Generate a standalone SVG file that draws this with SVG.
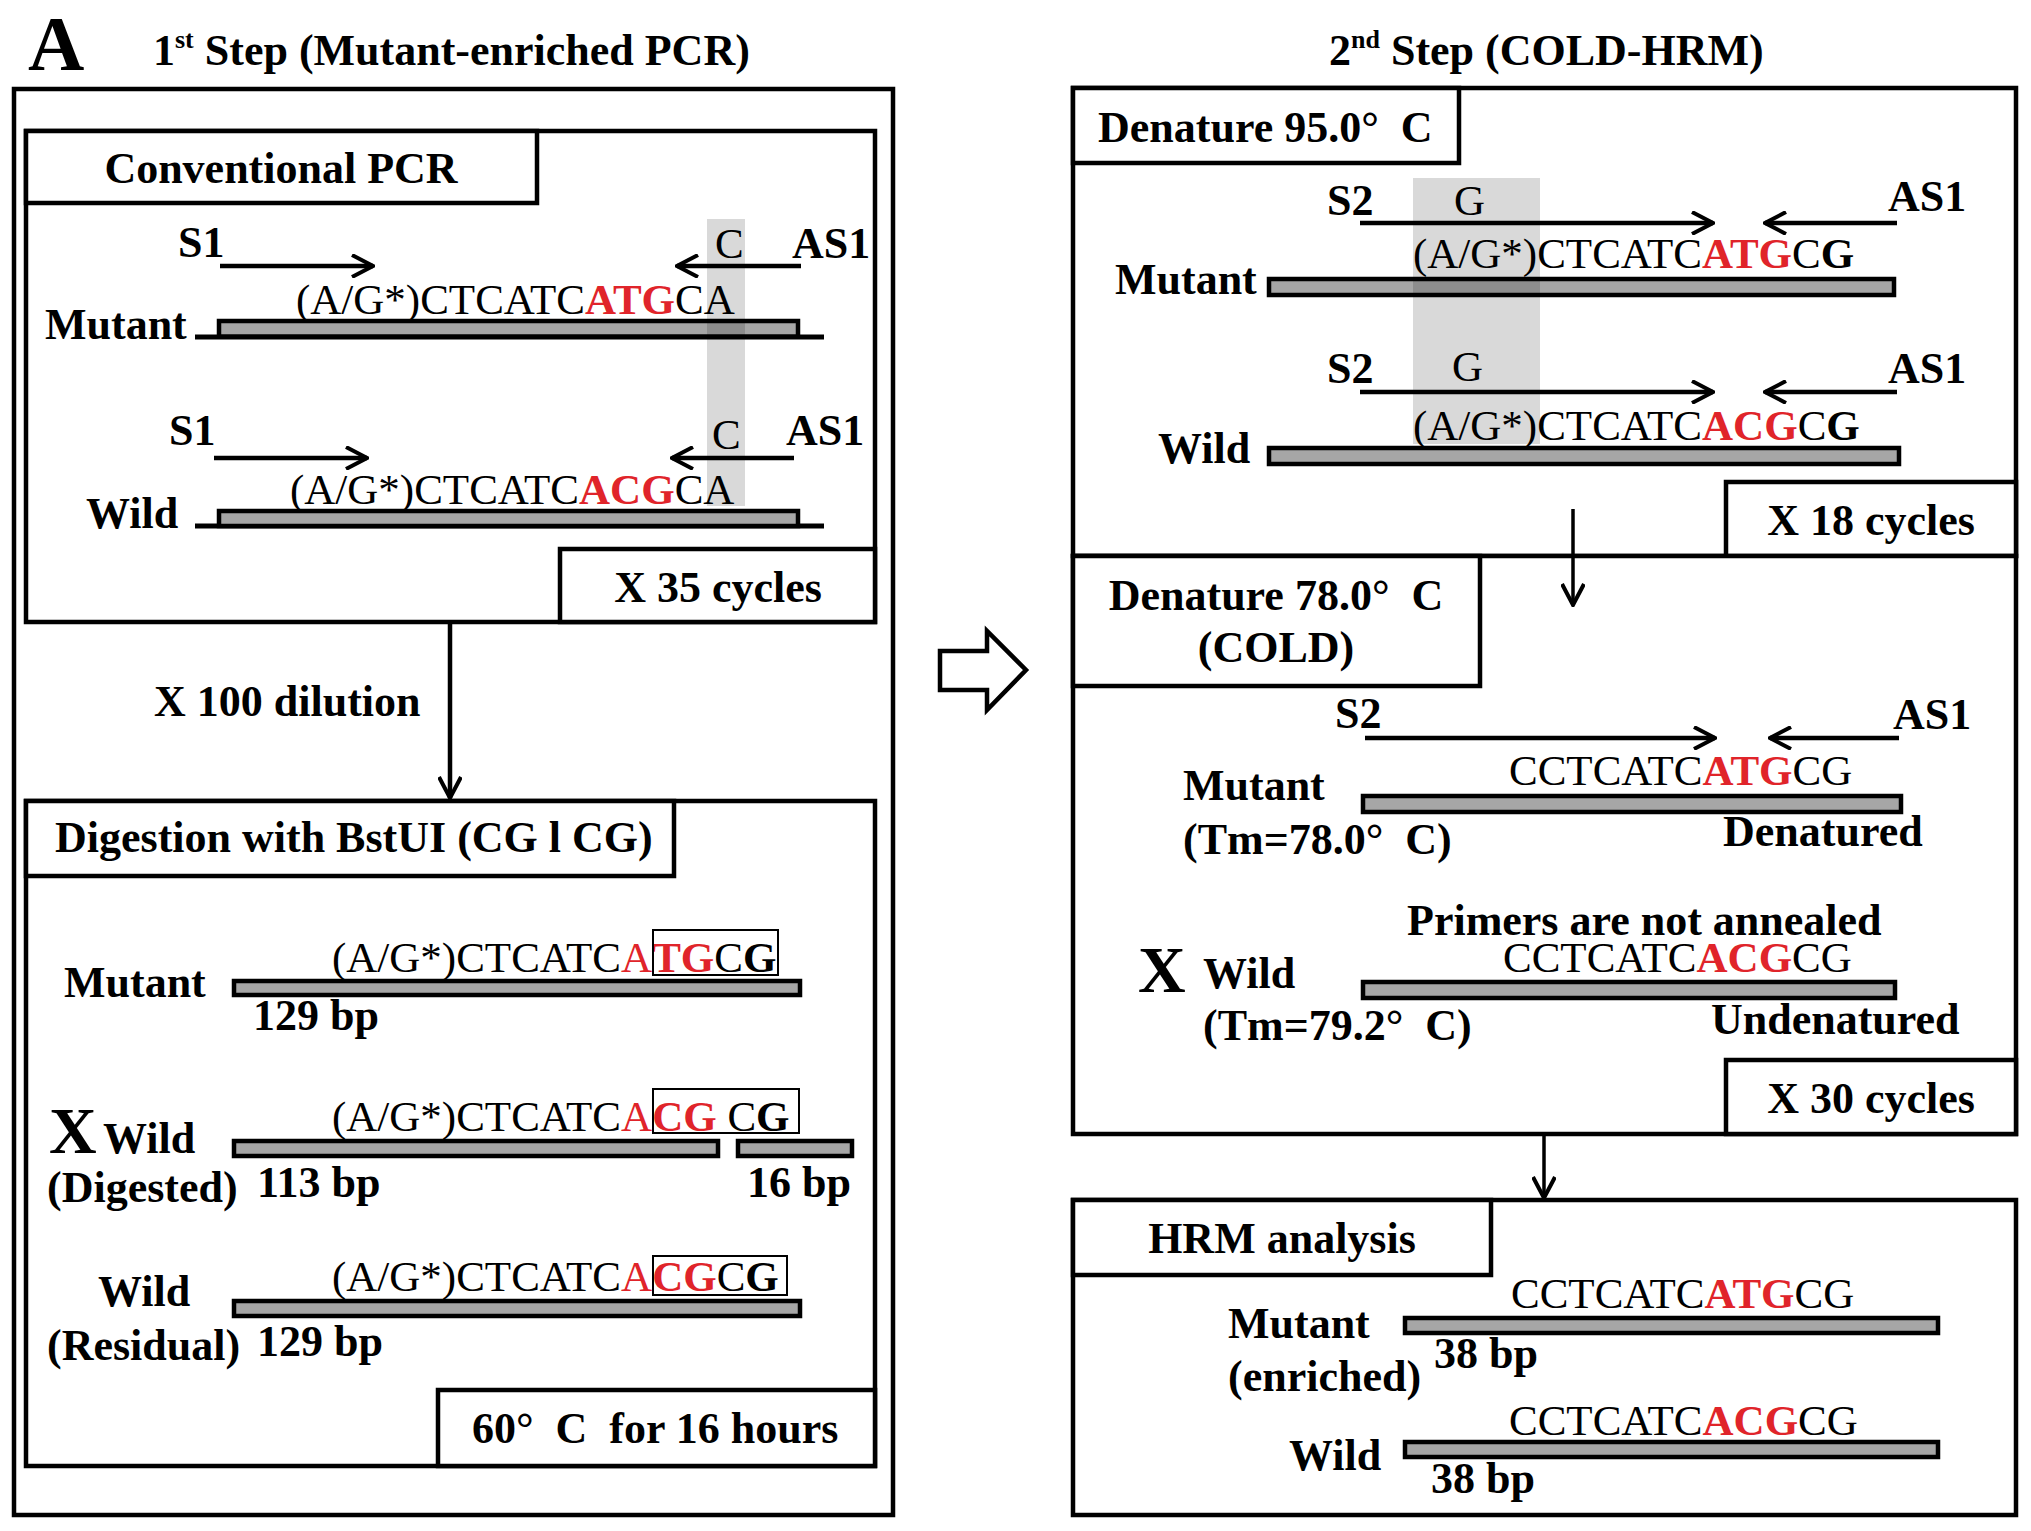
<svg xmlns="http://www.w3.org/2000/svg" width="2031" height="1531" viewBox="0 0 2031 1531">
<defs>
<style>
.box{fill:#fff;stroke:#000;stroke-width:4.5}
.bar{fill:#a6a6a6;stroke:#000;stroke-width:4.5}
.line{stroke:#000;stroke-width:5}
.band{fill:#000;fill-opacity:0.15}
.sb{fill:none;stroke:#000;stroke-width:2}
.arr{fill:none;stroke:#000;stroke-width:4.5;marker-end:url(#ah)}
.arrt{fill:none;stroke:#000;stroke-width:3.5;marker-end:url(#ah)}
text{font-family:"Liberation Serif","Times New Roman",serif;fill:#000;white-space:pre}
.b{font-weight:bold;font-size:44px}
.r{font-weight:normal;font-size:43px}
.red{fill:#e0242a;font-weight:bold}
.redr{fill:#e0242a;font-weight:normal}
.bk{font-weight:bold}
.big{font-weight:bold;font-size:66px}
.mid{text-anchor:middle}
</style>
<marker id="ah" markerUnits="userSpaceOnUse" viewBox="0 0 24 24" markerWidth="24" markerHeight="24" refX="22" refY="12" orient="auto">
<path d="M1,1 L22,12 L1,23" fill="none" stroke="#000" stroke-width="4"/>
</marker>
</defs>
<rect width="2031" height="1531" fill="#fff"/>

<g id="titles">
<text x="28" y="70" style="font-weight:bold;font-size:78px">A</text>
<text x="153" y="65" class="b">1<tspan font-size="26" dy="-17">st</tspan><tspan dy="17"> Step (Mutant-enriched PCR)</tspan></text>
<text x="1329" y="65" class="b">2<tspan font-size="26" dy="-17">nd</tspan><tspan dy="17"> Step (COLD-HRM)</tspan></text>
</g>

<g id="step1">
<rect class="box" x="14" y="89" width="879" height="1426"/>
</g>

<g id="conventional-pcr">
<rect class="box" x="26" y="131" width="849" height="491"/>
<rect class="box" x="26" y="131" width="511" height="72"/>
<text class="b mid" x="281" y="183">Conventional PCR</text>
<line class="line" x1="195" y1="337" x2="824" y2="337"/>
<rect class="bar" x="219" y="321" width="579" height="15.5"/>
<line class="line" x1="195" y1="526" x2="824" y2="526"/>
<rect class="bar" x="219" y="511" width="579" height="15"/>
<rect class="band" x="707" y="219" width="38" height="287"/>
<text class="b" x="178" y="257">S1</text>
<text class="r" x="715" y="258">C</text>
<text class="b" x="792" y="258">AS1</text>
<text class="r" x="296" y="314">(A/G*)CTCATC<tspan class="red">ATG</tspan>CA</text>
<text class="b" x="45" y="339">Mutant</text>
<text class="b" x="169" y="445">S1</text>
<text class="r" x="712" y="449">C</text>
<text class="b" x="786" y="445">AS1</text>
<text class="r" x="290" y="504">(A/G*)CTCATC<tspan class="red">ACG</tspan>CA</text>
<text class="b" x="86" y="528">Wild</text>
</g>

<g id="cycles35">
<rect class="box" x="560" y="549" width="315" height="73"/>
<text class="b mid" x="718" y="602">X 35 cycles</text>
</g>

<g id="dilution-label">
<text class="b" x="154" y="716">X 100 dilution</text>
</g>

<g id="digestion">
<rect class="box" x="26" y="801" width="849" height="665"/>
<rect class="box" x="26" y="801" width="648" height="75"/>
<text class="b" x="55" y="852">Digestion with BstUI (CG l CG)</text>
<text class="b" x="64" y="997">Mutant</text>
<text class="r" x="332" y="972">(A/G*)CTCATC<tspan class="redr">A</tspan><tspan class="red">TG</tspan>C<tspan class="bk">G</tspan></text>
<rect class="sb" x="653" y="930" width="125" height="45"/>
<rect class="bar" x="234" y="981" width="566" height="14"/>
<text class="b" x="253" y="1030">129 bp</text>
<text class="big" x="49" y="1153">X</text>
<text class="b" x="103" y="1153">Wild</text>
<text class="r" x="332" y="1131">(A/G*)CTCATC<tspan class="redr">A</tspan><tspan class="red">CG</tspan> C<tspan class="bk">G</tspan></text>
<rect class="sb" x="653" y="1089" width="146" height="44"/>
<rect class="bar" x="234" y="1141" width="484" height="15"/>
<rect class="bar" x="738" y="1141" width="114" height="15"/>
<text class="b" x="47" y="1202">(Digested)</text>
<text class="b" x="257" y="1197">113 bp</text>
<text class="b" x="747" y="1197">16 bp</text>
<text class="b" x="98" y="1306">Wild</text>
<text class="r" x="332" y="1291">(A/G*)CTCATC<tspan class="redr">A</tspan><tspan class="red">CG</tspan>C<tspan class="bk">G</tspan></text>
<rect class="sb" x="653" y="1256" width="134" height="39"/>
<rect class="bar" x="234" y="1301" width="566" height="15"/>
<text class="b" x="47" y="1360">(Residual)</text>
<text class="b" x="257" y="1356">129 bp</text>
</g>

<g id="incubation">
<rect class="box" x="438" y="1390" width="437" height="76"/>
<text class="b" x="472" y="1443">60°  C  for 16 hours</text>
</g>

<g id="block-arrow">
<polygon class="box" points="940,651 987,651 987,631 1026,670 987,710 987,690 940,690"/>
</g>

<g id="denature95">
<rect class="box" x="1073" y="88" width="943" height="468"/>
<rect class="box" x="1073" y="88" width="386" height="75"/>
<text class="b" x="1098" y="142">Denature 95.0°  C</text>
<rect class="bar" x="1269" y="279" width="625" height="16"/>
<rect class="bar" x="1269" y="448" width="630" height="16"/>
<rect class="band" x="1413" y="178" width="127" height="266"/>
<text class="b" x="1327" y="215">S2</text>
<text class="r" x="1454" y="215">G</text>
<text class="b" x="1888" y="211">AS1</text>
<text class="r" x="1413" y="268">(A/G*)CTCATC<tspan class="red">ATG</tspan>C<tspan class="bk">G</tspan></text>
<text class="b" x="1115" y="294">Mutant</text>
<text class="b" x="1327" y="383">S2</text>
<text class="r" x="1452" y="381">G</text>
<text class="b" x="1888" y="383">AS1</text>
<text class="r" x="1413" y="440">(A/G*)CTCATC<tspan class="red">ACG</tspan>C<tspan class="bk">G</tspan></text>
<text class="b" x="1158" y="463">Wild</text>
</g>

<g id="cycles18">
<rect class="box" x="1726" y="482" width="290" height="74"/>
<text class="b mid" x="1871" y="535">X 18 cycles</text>
</g>

<g id="denature78">
<rect class="box" x="1073" y="556" width="943" height="578"/>
<rect class="box" x="1073" y="556" width="407" height="130"/>
<text class="b mid" x="1276" y="610">Denature 78.0°  C</text>
<text class="b mid" x="1276" y="662">(COLD)</text>
<text class="b" x="1335" y="728">S2</text>
<text class="b" x="1893" y="729">AS1</text>
<text class="r" x="1509" y="785">CCTCATC<tspan class="red">ATG</tspan>CG</text>
<text class="b" x="1183" y="800">Mutant</text>
<rect class="bar" x="1363" y="796" width="538" height="16"/>
<text class="b" x="1723" y="846">Denatured</text>
<text class="b" x="1183" y="854">(Tm=78.0°  C)</text>
<text class="b" x="1407" y="935">Primers are not annealed</text>
<text class="r" x="1503" y="972">CCTCATC<tspan class="red">ACG</tspan>CG</text>
<text class="big" x="1138" y="992">X</text>
<text class="b" x="1203" y="988">Wild</text>
<rect class="bar" x="1363" y="982" width="532" height="16"/>
<text class="b" x="1711" y="1034">Undenatured</text>
<text class="b" x="1203" y="1040">(Tm=79.2°  C)</text>
</g>

<g id="cycles30">
<rect class="box" x="1726" y="1060" width="290" height="74"/>
<text class="b mid" x="1871" y="1113">X 30 cycles</text>
</g>

<g id="hrm">
<rect class="box" x="1073" y="1200" width="943" height="315"/>
<rect class="box" x="1073" y="1200" width="418" height="75"/>
<text class="b mid" x="1282" y="1253">HRM analysis</text>
<text class="r" x="1511" y="1308">CCTCATC<tspan class="red">ATG</tspan>CG</text>
<text class="b" x="1228" y="1338">Mutant</text>
<rect class="bar" x="1405" y="1318" width="533" height="15"/>
<text class="b" x="1434" y="1368">38 bp</text>
<text class="b" x="1228" y="1391">(enriched)</text>
<text class="r" x="1509" y="1435">CCTCATC<tspan class="red">ACG</tspan>CG</text>
<text class="b" x="1289" y="1470">Wild</text>
<rect class="bar" x="1405" y="1442" width="533" height="15"/>
<text class="b" x="1431" y="1493">38 bp</text>
</g>

<g id="connectors">
<path class="arr" d="M220,266 H373"/>
<path class="arr" d="M801,266 H677"/>
<path class="arr" d="M214,458 H367"/>
<path class="arr" d="M794,458 H672"/>
<path class="arr" d="M450,622 V798"/>
<path class="arr" d="M1360,223 H1713"/>
<path class="arr" d="M1897,223 H1765"/>
<path class="arr" d="M1360,392 H1713"/>
<path class="arr" d="M1897,392 H1765"/>
<path class="arrt" d="M1573,509 V605"/>
<path class="arr" d="M1365,738 H1715"/>
<path class="arr" d="M1899,738 H1770"/>
<path class="arrt" d="M1544,1134 V1198"/>
</g>
</svg>
